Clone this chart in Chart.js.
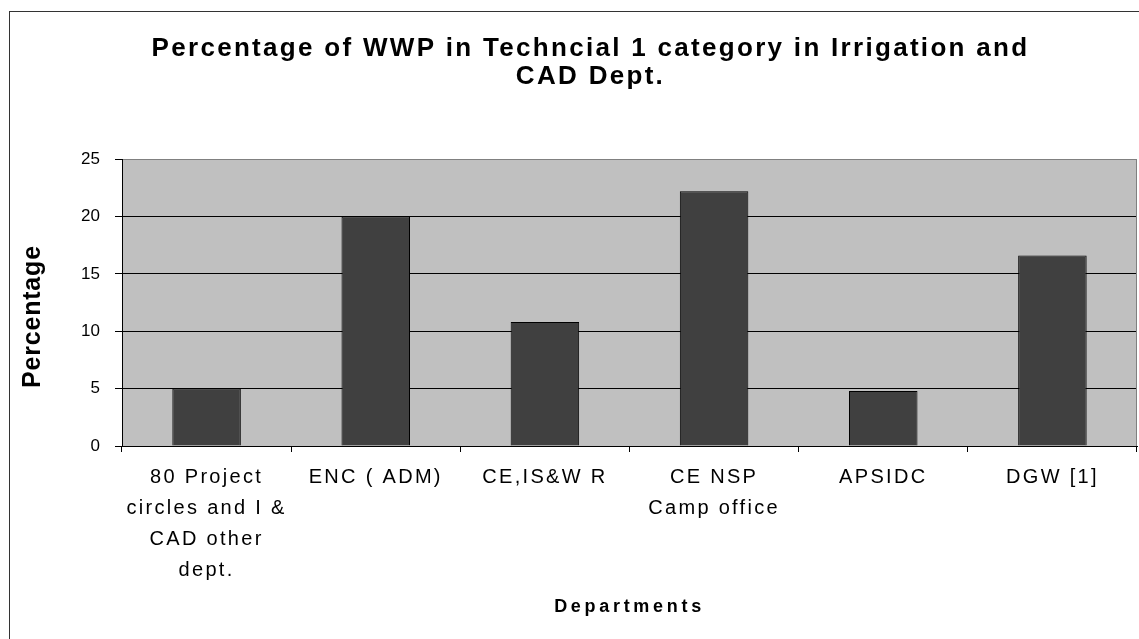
<!DOCTYPE html>
<html>
<head>
<meta charset="utf-8">
<title>Percentage of WWP in Techncial 1 category</title>
<script src="https://cdn.jsdelivr.net/npm/chart.js@4.4.1/dist/chart.umd.min.js"></script>
<style>
    body { margin: 0; background: #fff; }
    canvas { display: block; }
</style>
</head>
<body>
<canvas id="wwpChart" width="1139" height="639"></canvas>
<script>
// chart data
let departments = [
    ['80 Project', 'circles and I &', 'CAD other', 'dept.'],
    'ENC ( ADM)',
    'CE,IS&W R',
    ['CE NSP', 'Camp office'],
    'APSIDC',
    'DGW [1]'
];
let percentages = [5, 20, 10.8, 22.2, 4.8, 16.6];
let yTicks = [0, 5, 10, 15, 20, 25];

let titleLines = ['Percentage of WWP in Techncial 1 category in Irrigation and', 'CAD Dept.'];

Chart.defaults.font.family = '"Liberation Sans", Arial, sans-serif';
Chart.defaults.color = '#000';

// the old chart spreads its letters out, canvas can do that with letterSpacing
function spaced(obj, method, sp, dx, dy) {
    let orig = obj[method];
    obj[method] = function() {
        this.ctx.save();
        this.ctx.letterSpacing = sp;
        this.ctx.translate(dx || 0, dy || 0);
        orig.apply(this, arguments);
        this.ctx.restore();
    };
}

let framePlugin = {
    id: 'frame',
    afterLayout(chart) {
        if (chart._spaced) return;
        chart._spaced = true;
        spaced(chart.titleBlock, 'draw', '2.3px', 22, 0);
        spaced(chart.scales.x, 'drawLabels', '2.3px');
        spaced(chart.scales.x, 'drawTitle', '3.7px');
        spaced(chart.scales.y, 'drawTitle', '0.8px', 0, 14);
    },
    beforeDraw(chart) {
        let ctx = chart.ctx;
        let a = chart.chartArea;
        ctx.save();
        ctx.fillStyle = '#fff';
        ctx.fillRect(0, 0, chart.width, chart.height);
        // outer frame
        ctx.strokeStyle = '#333';
        ctx.lineWidth = 1;
        ctx.strokeRect(9.5, 11.5, chart.width + 20, chart.height + 20);
        // plot background
        ctx.fillStyle = '#c0c0c0';
        ctx.fillRect(a.left, a.top, a.right - a.left, a.bottom - a.top);
        ctx.restore();
    },
    beforeDatasetsDraw(chart) {
        let ctx = chart.ctx;
        let a = chart.chartArea;
        ctx.save();
        ctx.strokeStyle = '#808080';
        ctx.lineWidth = 1;
        ctx.beginPath();
        ctx.moveTo(a.right - 0.5, a.top);
        ctx.lineTo(a.right - 0.5, a.bottom);
        ctx.stroke();
        ctx.restore();
    }
};

let chart = new Chart(document.getElementById('wwpChart'), {
    type: 'bar',
    data: {
        labels: departments,
        datasets: [{
            label: 'Percentage',
            data: percentages,
            backgroundColor: '#404040',
            borderColor: '#000',
            borderWidth: 1,
            barPercentage: 0.405,
            categoryPercentage: 1
        }]
    },
    options: {
        responsive: false,
        animation: false,
        layout: {
            padding: { left: 0, right: 2, top: 0, bottom: 0 }
        },
        plugins: {
            legend: { display: false },
            tooltip: { enabled: false },
            title: {
                display: true,
                text: titleLines,
                color: '#000',
                font: { size: 26, weight: 'bold', lineHeight: 1.06 },
                padding: { top: 35, bottom: 69 }
            }
        },
        scales: {
            x: {
                afterFit: function(scale) { scale.height = 193; },
                grid: {
                    drawOnChartArea: false,
                    tickLength: 6,
                    tickColor: '#000'
                },
                border: { display: true, color: '#000' },
                ticks: {
                    color: '#000',
                    padding: 10,
                    maxRotation: 0,
                    autoSkip: false,
                    font: { size: 20, lineHeight: 1.55 }
                },
                title: {
                    display: true,
                    text: 'Departments',
                    color: '#000',
                    font: { size: 18, weight: 'bold' },
                    padding: { top: 0, bottom: 21 }
                }
            },
            y: {
                min: 0,
                max: 25,
                afterFit: function(scale) { scale.width = 122; },
                afterBuildTicks: function(scale) {
                    scale.ticks = yTicks.map(v => ({ value: v }));
                },
                grid: {
                    color: ctx => ctx.tick && ctx.tick.value === 25 ? '#808080' : '#000',
                    tickColor: '#000',
                    tickLength: 7
                },
                border: { display: true, color: '#000' },
                ticks: {
                    color: '#000',
                    padding: 15,
                    font: { size: 17 }
                },
                title: {
                    display: true,
                    text: 'Percentage',
                    color: '#000',
                    font: { size: 25, weight: 'bold' },
                    padding: { top: 18, bottom: 0 }
                }
            }
        }
    },
    plugins: [framePlugin]
});
</script>
</body>
</html>
